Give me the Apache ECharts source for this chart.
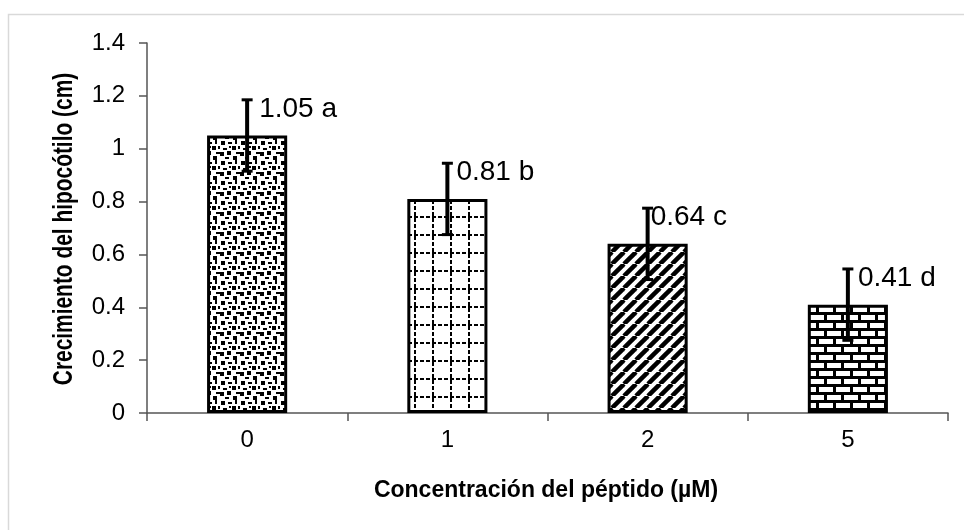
<!DOCTYPE html>
<html>
<head>
<meta charset="utf-8">
<script src="https://cdn.jsdelivr.net/npm/echarts@6/dist/echarts.min.js"></script>
<style>
  html, body { margin: 0; padding: 0; background: #fff; }
  #chart { width: 964px; height: 530px; }
</style>
</head>
<body>
<div id="chart"></div>
<script>
// Hypocotyl growth per peptide concentration
const categories = ['0', '1', '2', '5'];
const growth = [1.05, 0.81, 0.64, 0.41];
const errors = [0.135, 0.135, 0.135, 0.135];
const letters = ['a', 'b', 'c', 'd'];
const yMin = 0, yMax = 1.4, yStep = 0.2;

const FONT = '"Liberation Sans", Arial, sans-serif';

function tile(w, h, draw) {
  const c = document.createElement('canvas');
  c.width = w; c.height = h;
  const ctx = c.getContext('2d');
  ctx.fillStyle = '#fff';
  ctx.fillRect(0, 0, w, h);
  ctx.fillStyle = '#000';
  ctx.strokeStyle = '#000';
  draw(ctx, w, h);
  return c;
}

// Confetti fill: scattered small squares and dashes
const confetti = tile(20, 20, (ctx) => {
  const r = [
    [1, 1, 4, 4], [8, 2, 4, 2], [15, 0, 2, 4], [12, 6, 4, 4],
    [3, 8, 4, 2], [0, 12, 4, 4], [7, 11, 4, 4], [16, 12, 4, 2],
    [13, 16, 4, 4], [5, 17, 4, 2], [18, 6, 2, 3], [9, 6, 2, 2]
  ];
  r.forEach(([x, y, w, h]) => ctx.fillRect(x, y, w, h));
});

// Dotted grid fill
const dottedGrid = tile(18, 18, (ctx) => {
  for (let i = 0; i < 18; i += 6) {
    ctx.fillRect(i, 0, 4, 2);
    ctx.fillRect(0, i + 2, 2, 4);
  }
});

// Diagonal stripes rising to the right
const stripes = tile(12, 12, (ctx, w, h) => {
  ctx.lineWidth = 4.5;
  for (let k = -1; k <= 1; k++) {
    ctx.beginPath();
    ctx.moveTo(k * w, h);
    ctx.lineTo(k * w + w, 0);
    ctx.stroke();
  }
});

// Brick fill
const bricks = tile(34, 16, (ctx) => {
  ctx.fillRect(0, 0, 34, 16);
  ctx.fillStyle = '#fff';
  [[3, 3], [20, 3], [11, 11], [28, 11], [-6, 11]].forEach(([x, y]) => ctx.fillRect(x, y, 14, 5));
});

const fills = [confetti, dottedGrid, stripes, bricks];
const labelDx = [12, 9, 3, 10];

const chart = echarts.init(document.getElementById('chart'), null, { renderer: 'canvas' });

chart.setOption({
  animation: false,
  backgroundColor: '#fff',
  grid: { left: 147, right: 16, top: 43, bottom: 117 },
  xAxis: {
    type: 'category',
    data: categories,
    axisLine: { lineStyle: { color: '#555', width: 1.5 } },
    axisTick: { show: true, length: 8, lineStyle: { color: '#555', width: 1.5 } },
    axisLabel: { color: '#000', fontSize: 24, fontFamily: FONT, margin: 15 }
  },
  yAxis: {
    type: 'value',
    min: yMin, max: yMax, interval: yStep,
    splitLine: { show: false },
    axisLine: { show: true, lineStyle: { color: '#555', width: 1.5 } },
    axisTick: { show: true, length: 8, lineStyle: { color: '#555', width: 1.5 } },
    axisLabel: { color: '#000', fontSize: 24, fontFamily: FONT, margin: 22 }
  },
  graphic: [
    {
      type: 'rect', silent: true,
      shape: { x: 8.5, y: 14.5, width: 1200, height: 800 },
      style: { fill: 'none', stroke: '#d9d9d9', lineWidth: 1.5 }
    },
    {
      type: 'text', x: 64, y: 229, rotation: Math.PI / 2,
      scaleX: 0.95, scaleY: 1.25,
      style: {
        text: 'Crecimiento del hipocótilo (cm)', font: 'bold 22px ' + FONT,
        fill: '#000', align: 'center', verticalAlign: 'middle'
      }
    },
    {
      type: 'text', x: 546, y: 491,
      style: {
        text: 'Concentración del péptido (µM)', font: 'bold 23px ' + FONT,
        fill: '#000', align: 'center', verticalAlign: 'middle'
      }
    }
  ],
  series: [
    {
      type: 'bar',
      barWidth: '40%',
      data: growth.map((v, i) => ({
        value: v,
        itemStyle: {
          color: { image: fills[i], repeat: 'repeat' },
          borderColor: '#000',
          borderWidth: 3
        }
      }))
    },
    {
      type: 'custom',
      data: growth.map((v, i) => [i, v, errors[i]]),
      renderItem: (params, api) => {
        const i = api.value(0), v = api.value(1), e = api.value(2);
        const top = api.coord([i, v + e]);
        const bot = api.coord([i, v - e]);
        const x = top[0];
        const half = 5.5;
        const st = { stroke: '#000', lineWidth: 3 };
        return {
          type: 'group',
          children: [
            { type: 'line', shape: { x1: x, y1: top[1], x2: x, y2: bot[1] }, style: { stroke: '#000', lineWidth: 4 } },
            { type: 'line', shape: { x1: x - half, y1: top[1], x2: x + half, y2: top[1] }, style: st },
            { type: 'line', shape: { x1: x - half, y1: bot[1], x2: x + half, y2: bot[1] }, style: st },
            {
              type: 'text',
              x: x + labelDx[i], y: top[1] + 9,
              style: {
                text: growth[i].toFixed(2) + ' ' + letters[i],
                font: '28px ' + FONT, fill: '#000',
                align: 'left', verticalAlign: 'middle'
              }
            }
          ]
        };
      },
      z: 5
    }
  ]
});
</script>
</body>
</html>
